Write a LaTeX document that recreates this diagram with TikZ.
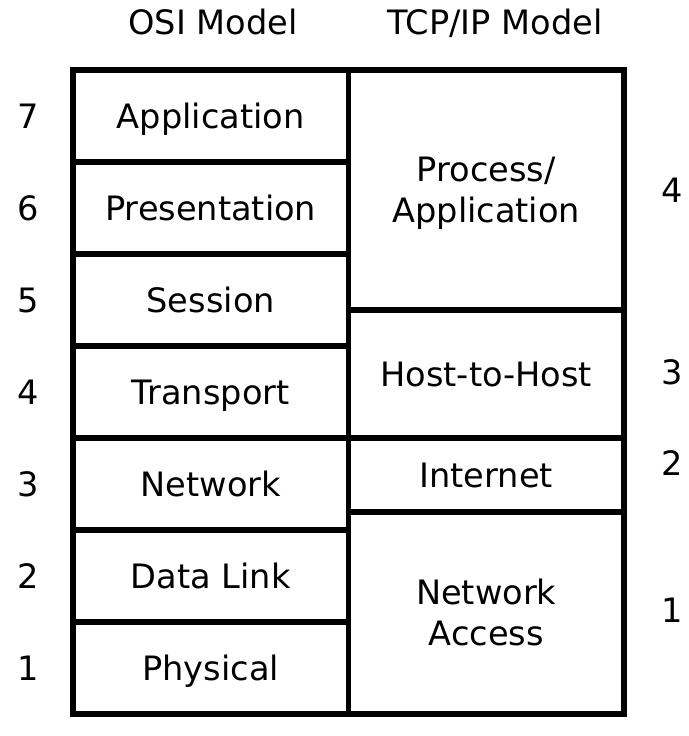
\documentclass[tikz,border=0pt]{standalone}
\usepackage{fontspec}
\setmainfont{DejaVu Sans}
\begin{document}
\begin{tikzpicture}[x=1pt,y=-1pt,
  every node/.style={font=\fontsize{33.6}{41}\selectfont, inner sep=0pt, outer sep=0pt},
  cell/.style={draw, line width=5.5pt, minimum width=275.5pt, align=center,
               text height=24pt, text depth=0pt},
  twoline/.style={text height=65pt, text depth=0pt},
  num/.style={text height=24pt, text depth=0pt},
]
\useasboundingbox[fill=white] (0,0) rectangle (688,736);

% column headers
\node[num] (osi)   at (213,22) {OSI Model};
\node[num] (tcpip) at (495,22) {TCP/IP Model};

% OSI layers
\node[cell, minimum height=92pt] (app)   at (210.75,116) {Application};
\node[cell, minimum height=92pt] (pres)  at (210.75,208) {Presentation};
\node[cell, minimum height=92pt] (sess)  at (210.75,300) {Session};
\node[cell, minimum height=92pt] (trans) at (210.75,392) {Transport};
\node[cell, minimum height=92pt] (net)   at (210.75,484) {Network};
\node[cell, minimum height=92pt] (dl)    at (210.75,576) {Data Link};
\node[cell, minimum height=92pt] (phys)  at (210.75,668) {Physical};

% TCP/IP layers
\node[cell, twoline, minimum height=240pt] (proc) at (486.25,190) {Process/\\Application};
\node[cell, minimum height=128pt] (h2h)  at (486.25,374) {Host-to-Host};
\node[cell, minimum height=74pt]  (inet) at (486.25,475) {Internet};
\node[cell, twoline, minimum height=202pt] (nacc) at (486.25,613) {Network\\Access};

% OSI layer numbers
\node[num] (n7) at (28,116) {7};
\node[num] (n6) at (28,208) {6};
\node[num] (n5) at (28,300) {5};
\node[num] (n4) at (28,392) {4};
\node[num] (n3) at (28,484) {3};
\node[num] (n2) at (28,576) {2};
\node[num] (n1) at (28,668) {1};

% TCP/IP layer numbers
\node[num] (t4) at (672,190) {4};
\node[num] (t3) at (672,372) {3};
\node[num] (t2) at (672,463) {2};
\node[num] (t1) at (672,610) {1};
\end{tikzpicture}
\end{document}
